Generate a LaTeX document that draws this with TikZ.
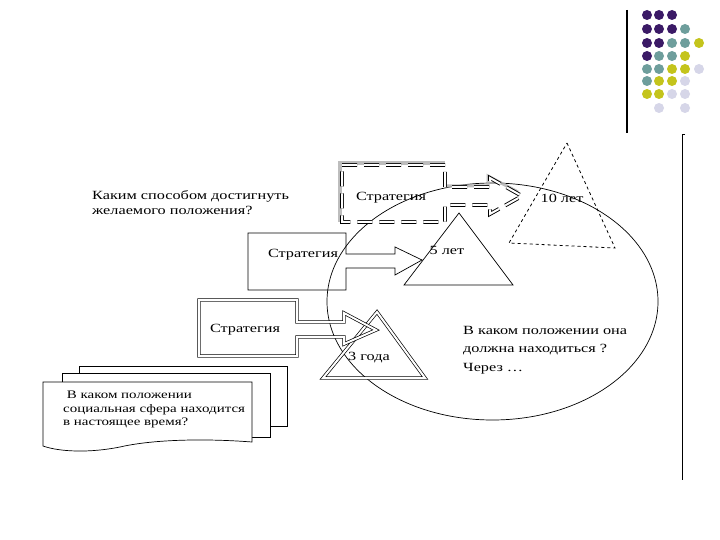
\documentclass[tikz,border=0pt]{standalone}
\usepackage{fontspec}
\setmainfont{Liberation Serif}[FakeStretch=1.3]
\definecolor{dpurple}{HTML}{3B1A66}
\definecolor{dteal}{HTML}{6E9E9C}
\definecolor{dyellow}{HTML}{C4C41C}
\definecolor{dlav}{HTML}{D6D6E8}
\begin{document}
\begin{tikzpicture}[x=1pt,y=-1pt,line join=miter,
  lbl/.style={inner sep=0pt,font=\fontsize{12.5}{15}\selectfont},
  txt/.style={inner sep=0pt,align=left,font=\fontsize{12.5}{15}\selectfont},
  txtb/.style={inner sep=0pt,align=left,font=\fontsize{12.5}{18.5}\selectfont},
  dlbl/.style={inner sep=0pt,align=left,font=\fontsize{11.5}{13.5}\selectfont},
  page/.style={draw,fill=white,line width=0.7pt}]
\useasboundingbox (0,0) rectangle (720,540);
\fill[white] (0,0) rectangle (720,540);
% decorative dots
\foreach \x/\y/\c in {
 647/15/dpurple,659/15/dpurple,672/15/dpurple,
 647/29/dpurple,659/29/dpurple,672/29/dpurple,685/29/dteal,
 647/43/dpurple,659/43/dpurple,672/43/dteal,685/43/dteal,699/43/dyellow,
 647/56/dpurple,659/56/dteal,672/56/dteal,685/56/dyellow,
 647/69/dteal,659/69/dteal,672/69/dyellow,685/69/dyellow,699/69/dlav,
 647/81/dteal,659/81/dyellow,672/81/dyellow,685/81/dlav,
 647/94/dyellow,659/94/dyellow,672/94/dlav,685/94/dlav,
 659/108/dlav,685/108/dlav}
 \fill[\c] (\x,\y) circle[radius=5];
\draw[line width=1.1pt] (627,10) -- (627,133);
\draw[line width=1pt] (685,135) -- (682,135) -- (682,480);
% big ellipse
\draw[line width=0.7pt] (492.5,301.5) ellipse [x radius=165.5, y radius=118.5];
% triangles
\draw[dashed,line width=0.8pt] (567,143) -- (615,248) -- (509,243) -- cycle;
\draw[line width=0.7pt] (459,213) -- (513,285) -- (404,285) -- cycle;
\draw[double,double distance=2pt,line width=0.7pt] (377,312) -- (425,378) -- (323,378) -- cycle;
% strategy 1 (dashed double, gray shadow)
\draw[gray!60,line width=3.5pt,opacity=0.85] (340,222) -- (340,163) -- (445,163);
\draw[gray!60,line width=3pt,opacity=0.85] (445,186) -- (488,186) -- (488,176) -- (518,192);
\draw[double,double distance=2pt,line width=0.9pt,dash pattern=on 15pt off 7pt]
  (342,165) -- (445,165) -- (445,187) -- (490,187) -- (490,178) -- (522,196)
  -- (490,214) -- (490,205) -- (445,205) -- (445,222) -- (342,222) -- cycle;
\node[lbl] (s1) at (391,198) {Стратегия};
% strategy 2 (plain)
\draw[line width=0.7pt] (248,233) -- (346,233) -- (346,254) -- (395,254) -- (395,247)
  -- (422,260) -- (395,275) -- (395,268) -- (346,268) -- (346,290) -- (248,290) -- cycle;
\node[lbl] (s2) at (303,255) {Стратегия};
% strategy 3 (double)
\draw[double,double distance=2pt,line width=0.7pt] (199,300) -- (297,300) -- (297,322)
  -- (344,322) -- (344,313) -- (376,330) -- (344,344) -- (344,337) -- (297,337)
  -- (297,356) -- (199,356) -- cycle;
\node[lbl] (s3) at (245,330) {Стратегия};
% labels
\node[lbl] (t10) at (562,198) {10 лет};
\node[lbl] (t5) at (447,250) {5 лет};
\node[lbl] (t3) at (369,358) {3 года};
% texts
\node[txt,anchor=north west] (q1) at (92,190) {Каким способом достигнуть\\желаемого положения?};
\node[txtb,anchor=north west] (q2) at (463,326) {В каком положении она\\должна находиться ?\\Через …};
% document stack
\draw[page] (270,426) -- (287,426) -- (287,366) -- (79,366) -- (79,373);
\draw[page] (252,437) -- (270,437) -- (270,373) -- (62,373) -- (62,382);
\draw[page] (43,382) -- (252,382) -- (252,442) .. controls (200,438) and (150,440) .. (120,447)
  .. controls (90,453) and (60,452) .. (43,446) -- cycle;
\node[dlbl,anchor=north west] (q3) at (63,391) {\ В каком положении\\социальная сфера находится\\в настоящее время?};
\end{tikzpicture}
\end{document}
